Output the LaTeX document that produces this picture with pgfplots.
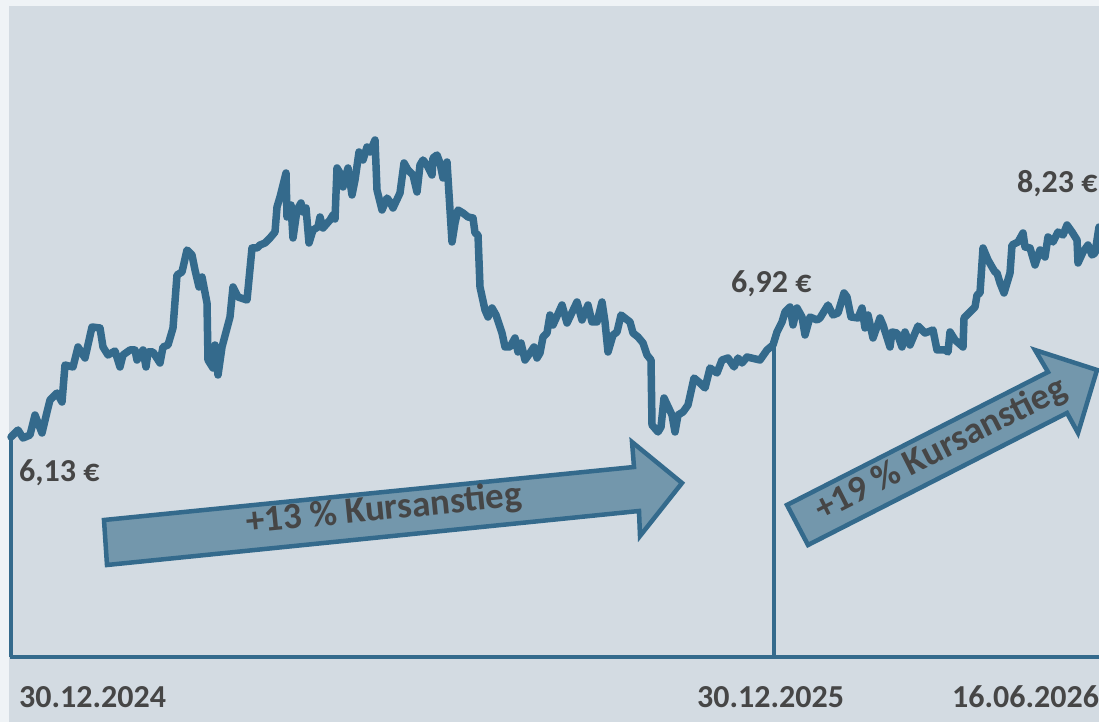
\documentclass[border=0pt]{standalone}
\usepackage{fontspec}
\setmainfont{Carlito}
\usepackage{pgfplots}
\pgfplotsset{compat=1.18}
\definecolor{linec}{RGB}{52,106,140}
\definecolor{arrowc}{RGB}{115,151,172}
\definecolor{textc}{RGB}{70,70,70}
\definecolor{outerbg}{RGB}{239,243,246}
\definecolor{innerbg}{RGB}{211,219,226}
\begin{document}
\begin{tikzpicture}
\begin{axis}[name=ax, width=1099pt, height=722pt, scale only axis,
  xmin=0, xmax=1099, ymin=0, ymax=722, axis lines=none, clip=false]
\fill[outerbg] (axis cs:0,0) rectangle (axis cs:1099,722);
\fill[innerbg] (axis cs:9,0) rectangle (axis cs:1099,716);
% axis lines
\addplot[line width=4pt, color=linec] coordinates {(10,65) (1099,65)};
\addplot[line width=3.5pt, color=linec] coordinates {(11,285) (11,65)};
\addplot[line width=3.5pt, color=linec] coordinates {(774,377) (774,65)};
% price series (height above bottom edge)
\addplot[line width=7.5pt, color=linec, line join=round, line cap=round] coordinates {
(11,285) (18,292) (23,284) (30,287) (35,307) (42,289) (47,310) (50,322) (57,329) (62,320)
(65,357) (73,355) (78,375) (85,364) (92,395) (100,394) (103,375) (108,367) (115,371) (120,355)
(123,367) (130,372) (135,372) (137,362) (143,372) (146,355) (148,370) (153,370) (160,359) (163,375)
(168,377) (173,394) (177,447) (182,450) (187,472) (192,467) (195,452) (199,435) (202,445) (207,419)
(208,362) (213,354) (215,377) (218,347) (222,375) (230,405) (233,435) (238,425) (247,422) (252,474)
(257,474) (260,477) (265,479) (270,484) (275,490) (277,515) (280,525) (286,549) (287,505) (291,517)
(293,484) (297,512) (301,519) (303,510) (306,514) (309,479) (313,492) (318,495) (320,505) (323,494)
(330,502) (333,507) (335,503) (337,554) (340,549) (343,535) (348,554) (352,527) (355,542) (359,570)
(363,562) (367,575) (370,570) (375,582) (377,532) (382,512) (387,524) (390,520) (393,514) (400,529)
(404,559) (408,552) (413,547) (417,530) (420,557) (423,562) (427,557) (432,547) (433,564) (437,567)
(440,559) (443,544) (447,560) (452,480) (455,499) (458,512) (463,509) (468,505) (473,504) (475,489)
(478,487) (480,435) (485,412) (488,405) (492,414) (496,407) (502,389) (505,375) (510,375) (515,384)
(518,370) (521,379) (525,362) (530,369) (534,375) (537,364) (540,369) (543,385) (547,389) (550,407)
(553,397) (562,417) (567,399) (577,420) (582,402) (588,417) (592,400) (597,400) (602,420) (605,400)
(608,370) (613,387) (617,390) (621,407) (630,400) (633,389) (638,385) (643,379) (647,367) (651,362)
(652,297) (658,290) (661,295) (664,324) (672,307) (675,290) (678,307) (683,310) (688,317) (694,344)
(700,339) (705,334) (710,354) (717,349) (722,362) (728,364) (734,355) (738,364) (742,359) (747,365)
(760,362) (767,372) (773,377) (777,390) (782,400) (785,410) (790,415) (793,397) (797,414) (802,405)
(805,387) (810,405) (817,402) (820,404) (828,417) (833,407) (838,409) (844,429) (847,425) (851,405)
(858,404) (862,414) (865,394) (868,407) (873,384) (880,404) (883,397) (890,375) (892,390) (897,389)
(902,375) (905,390) (910,377) (918,396) (925,389) (933,392) (937,372) (945,372) (948,370) (950,390)
(955,382) (963,375) (964,404) (970,410) (975,415) (977,427) (980,429) (983,474) (988,462) (992,455)
(995,450) (997,449) (1000,439) (1004,429) (1010,449) (1012,477) (1018,480) (1023,489) (1025,475) (1030,474)
(1035,457) (1040,472) (1045,465) (1048,485) (1053,480) (1058,490) (1063,487) (1067,497) (1072,490) (1077,482)
(1078,459) (1083,470) (1088,477) (1092,467) (1095,469) (1099,495)
};
% arrows
\draw[line width=4.5pt, draw=linec, fill=arrowc, line join=miter]
  (axis cs:104,202) -- (axis cs:634,255) -- (axis cs:632,280) -- (axis cs:682,239)
  -- (axis cs:640,186) -- (axis cs:639,211) -- (axis cs:107,157) -- cycle;
\draw[line width=4.5pt, draw=linec, fill=arrowc, line join=miter]
  (axis cs:787,217) -- (axis cs:1048,350) -- (axis cs:1035,372) -- (axis cs:1097,352)
  -- (axis cs:1078,289) -- (axis cs:1067,309) -- (axis cs:808,177) -- cycle;
\node[text=textc, font=\bfseries\fontsize{37}{44}\selectfont, rotate=5.7, inner sep=0pt]
  at (axis cs:384,212) {+13 \% Kursanstieg};
\node[text=textc, font=\bfseries\fontsize{37}{44}\selectfont, rotate=27, inner sep=0pt]
  at (axis cs:941,272) {+19 \% Kursanstieg};
% value labels
\tikzset{lab/.style={text=textc, font=\bfseries\fontsize{32}{38}\selectfont, inner sep=0pt, anchor=base west}}
\node[lab] at (axis cs:19,240) {6,13 €};
\node[lab] at (axis cs:731,429) {6,92 €};
\node[lab] at (axis cs:1017,529) {8,23 €};
\node[lab] at (axis cs:19,14) {30.12.2024};
\node[lab] at (axis cs:697,14) {30.12.2025};
\node[lab] at (axis cs:952,14) {16.06.2026};
\end{axis}
\pgfresetboundingbox
\path (ax.south west) rectangle (ax.north east);
\end{tikzpicture}
\end{document}
